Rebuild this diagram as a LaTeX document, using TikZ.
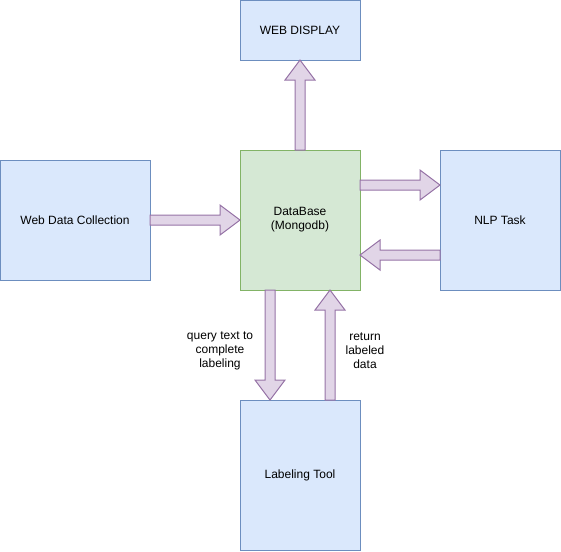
\documentclass[tikz,border=0pt]{standalone}
\usepackage{fontspec}
\setmainfont{Liberation Sans}
\usetikzlibrary{calc,positioning}

\definecolor{boxfill}{HTML}{DAE8FC}
\definecolor{boxline}{HTML}{6C8EBF}
\definecolor{dbfill}{HTML}{D5E8D4}
\definecolor{dbline}{HTML}{82B366}
\definecolor{arrowfill}{HTML}{E1D5E7}
\definecolor{arrowline}{HTML}{9673A6}

\tikzset{
  module/.style={draw=boxline, fill=boxfill, line width=0.75pt, outer sep=0pt,
    align=center, font=\fontsize{9pt}{10.5pt}\selectfont},
  store/.style={module, draw=dbline, fill=dbfill},
  note/.style={align=center, font=\fontsize{9pt}{10.5pt}\selectfont},
  % flat block arrow: shaft 10px, head 30px wide, 20px long
  blockarrow/.style={draw=arrowline, fill=arrowfill, line width=0.75pt, line join=miter,
    to path={
      let \p1=(\tikztostart), \p2=(\tikztotarget),
          \n1={atan2(\y2-\y1,\x2-\x1)},
          \p3=($(\p2)!15pt!(\p1)$)
      in ($(\p1)+(\n1+90:3.75pt)$) -- ($(\p3)+(\n1+90:3.75pt)$)
         -- ($(\p3)+(\n1+90:11.25pt)$) -- (\p2)
         -- ($(\p3)+(\n1-90:11.25pt)$) -- ($(\p3)+(\n1-90:3.75pt)$)
         -- ($(\p1)+(\n1-90:3.75pt)$) -- cycle
    }}
}

\begin{document}
\begin{tikzpicture}[x=0.75pt,y=-0.75pt]
\useasboundingbox (0,0) rectangle (561,551);

\node[module, minimum width=90pt, minimum height=45pt] (web) at (300,30) {WEB DISPLAY};
\node[module, minimum width=112.5pt, minimum height=90pt] (wdc) at (75,220) {Web Data Collection};
\node[store, minimum width=90pt, minimum height=105pt] (db) at (300,220) {DataBase\\(Mongodb)};
\node[module, minimum width=90pt, minimum height=105pt] (nlp) at (500,220) {NLP Task};
\node[module, minimum width=90pt, minimum height=112.5pt] (tool) at (300,475) {Labeling Tool};

% flows
\draw[blockarrow] (db.north) to (web.south);
\draw[blockarrow] (wdc.east) to (db.west);
\draw[blockarrow] ($(db.east)+(0,-35)$) to ($(nlp.west)+(0,-35)$);
\draw[blockarrow] ($(nlp.west)+(0,35)$) to ($(db.east)+(0,35)$);
\draw[blockarrow] ($(db.south)+(-30,0)$) to ($(tool.north)+(-30,0)$);
\draw[blockarrow] ($(tool.north)+(30,0)$) to ($(db.south)+(30,0)$);

\node[note] (query) at (220,351) {query text to\\complete\\labeling};
\node[note] (ret) at (365,351) {return\\labeled\\data};
\end{tikzpicture}
\end{document}
